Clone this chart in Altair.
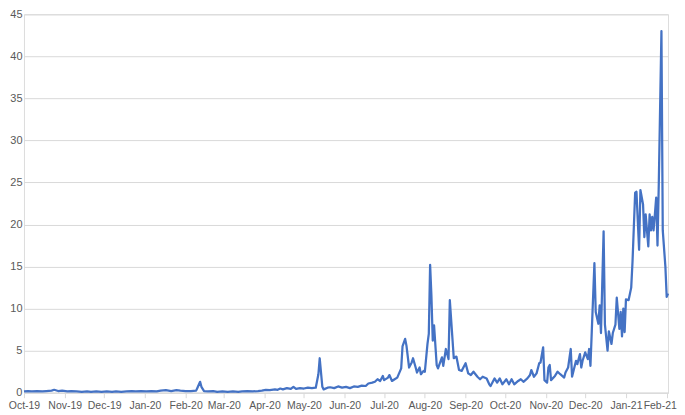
import altair as alt
import pandas as pd

# Day offsets from 2019-10-01 and the plotted values
day_offsets = [
    0, 3, 6, 10, 14, 17, 21, 23, 26, 29, 33, 36, 40, 44, 48, 51, 55, 59, 63, 67,
    70, 74, 78, 82, 85, 89, 93, 97, 101, 104, 108, 112, 116, 119, 123, 127, 131,
    132, 134, 135, 137, 140, 144, 147, 151, 155, 159, 163, 166, 170, 174, 178,
    181, 184, 187, 191, 193, 195, 197, 200, 203, 205, 207, 210, 213, 216, 219,
    222, 224, 225, 227, 228, 231, 233, 236, 239, 242, 245, 248, 251, 254, 257,
    260, 262, 265, 267, 269, 271, 273, 274, 277, 278, 280, 282, 284, 287, 288,
    290, 291, 293, 295, 296, 298, 299, 301, 302, 304, 305, 307, 308, 309, 310,
    311, 312, 314, 315, 318, 319, 321, 323, 324, 326, 327, 329, 331, 333, 336,
    338, 340, 342, 345, 347, 349, 352, 354, 355, 358, 360, 362, 364, 367, 369,
    371, 373, 376, 378, 380, 383, 385, 386, 388, 390, 392, 393, 395, 396, 398,
    399, 400, 401, 404, 406, 408, 411, 412, 414, 416, 417, 420, 421, 423, 424,
    425, 427, 429, 430, 431, 432, 434, 435, 437, 438, 439, 441, 442, 444, 445,
    447, 448, 450, 451, 453, 454, 455, 456, 457, 458, 460, 462, 463, 465, 466,
    468, 469, 471, 472, 473, 475, 476, 477, 478, 479, 480, 481, 482, 483, 485,
    486, 488, 489, 490,
]
values = [
    0.15, 0.2, 0.15, 0.2, 0.15, 0.2, 0.25, 0.35, 0.2, 0.25, 0.15, 0.2, 0.15, 0.1,
    0.15, 0.1, 0.15, 0.1, 0.15, 0.1, 0.15, 0.1, 0.15, 0.2, 0.15, 0.2, 0.15, 0.2,
    0.15, 0.25, 0.3, 0.2, 0.3, 0.25, 0.2, 0.2, 0.25,
    0.6, 1.3, 0.7, 0.2, 0.15, 0.2, 0.1, 0.15, 0.1, 0.15, 0.1, 0.15, 0.2, 0.15,
    0.2, 0.25, 0.35, 0.3, 0.4, 0.35, 0.5, 0.4, 0.55, 0.45, 0.7, 0.45, 0.55, 0.5,
    0.6, 0.55, 0.6, 2.2, 4.1, 0.7, 0.4, 0.6, 0.65, 0.55, 0.75, 0.6, 0.7, 0.55,
    0.75, 0.7, 0.85, 0.8, 1.1, 1.2, 1.3, 1.6, 1.4, 2.0, 1.5, 1.8, 2.1, 1.4, 1.6,
    1.8, 2.9, 5.5, 6.4, 5.6, 3.0, 3.6, 4.1, 3.0, 2.4, 3.0, 2.2, 2.6, 2.5, 5.8,
    7.0, 15.2, 11.5, 6.2, 8.0, 3.3, 2.9, 4.2, 3.2, 5.2, 4.0, 11.0, 6.4, 4.1, 4.3,
    2.7, 2.6, 3.5, 2.3, 2.1, 2.5, 1.9, 1.6, 1.9, 1.7, 1.0, 0.8, 1.7, 1.2, 1.7,
    1.0, 1.6, 1.0, 1.6, 1.0, 1.4, 1.6, 1.3, 1.7, 2.1, 2.7, 1.9, 2.3, 3.5, 3.6,
    5.4, 1.5, 1.2, 3.0, 3.3, 1.5, 2.0, 2.5, 2.2, 1.8, 2.4, 3.0, 5.2, 1.9, 3.8,
    3.4, 4.6, 3.0, 3.8, 4.8, 4.0, 5.2, 3.2, 7.3, 15.4, 9.6, 8.2, 10.4, 7.1, 19.2,
    8.1, 5.0, 7.3, 5.8, 7.1, 8.1, 11.3, 7.6, 9.6, 6.7, 10.0, 7.2, 11.1, 11.0,
    12.5, 15.6, 23.8, 23.9, 17.0, 24.1, 22.4, 18.5, 21.2, 17.4, 21.2, 19.3, 20.9,
    19.3, 21.2, 23.2, 17.5, 25.0, 43.0, 19.3, 15.0, 11.4, 11.8,
]

y_ticks = [0, 5, 10, 15, 20, 25, 30, 35, 40, 45]
month_ticks = [
    (2019, 10), (2019, 11), (2019, 12), (2020, 1), (2020, 2), (2020, 3),
    (2020, 4), (2020, 5), (2020, 6), (2020, 7), (2020, 8), (2020, 9),
    (2020, 10), (2020, 11), (2020, 12), (2021, 1), (2021, 2),
]

start = pd.Timestamp("2019-10-01")
df = pd.DataFrame({
    "date": [start + pd.Timedelta(days=d) for d in day_offsets],
    "value": values,
})

tick_values = [alt.DateTime(year=y, month=m, date=1) for y, m in month_ticks]

FONT = "Liberation Sans"
LABEL_COLOR = "#595959"
GRID = "#D9D9D9"

chart = alt.Chart(df).mark_line(
    color="#4472C4", strokeWidth=2.25, strokeJoin="round", interpolate="linear"
).encode(
    x=alt.X(
        "date:T",
        scale=alt.Scale(
            domain=[alt.DateTime(year=2019, month=10, date=1),
                    alt.DateTime(year=2021, month=2, date=2)],
            nice=False,
        ),
        axis=alt.Axis(
            values=tick_values, format="%b-%y", title=None, grid=False,
            domain=True, domainColor=GRID, domainWidth=1,
            ticks=True, tickColor=GRID, tickSize=5, tickWidth=1,
            labelPadding=3, labelFont=FONT, labelFontSize=10.5,
            labelColor=LABEL_COLOR, labelFlush=False, labelOverlap=False,
            labelOffset={
                "condition": {"test": "datum.value > datetime(2021, 0, 15)", "value": -7},
                "value": 0,
            },
        ),
    ),
    y=alt.Y(
        "value:Q",
        scale=alt.Scale(domain=[0, 45], nice=False, zero=True),
        axis=alt.Axis(
            values=y_ticks, title=None, grid=True, gridColor=GRID, gridWidth=1,
            domain=False, ticks=False, labelPadding=2, labelFont=FONT,
            labelFontSize=11, labelColor=LABEL_COLOR,
        ),
    ),
).properties(
    width=645,
    height=379,
    padding={"left": 0, "top": 0, "right": 0, "bottom": 0},
).configure_view(
    stroke=None
).configure(
    background="white"
)

chart.save("out.html", embed_options={"renderer": "svg", "actions": False})
